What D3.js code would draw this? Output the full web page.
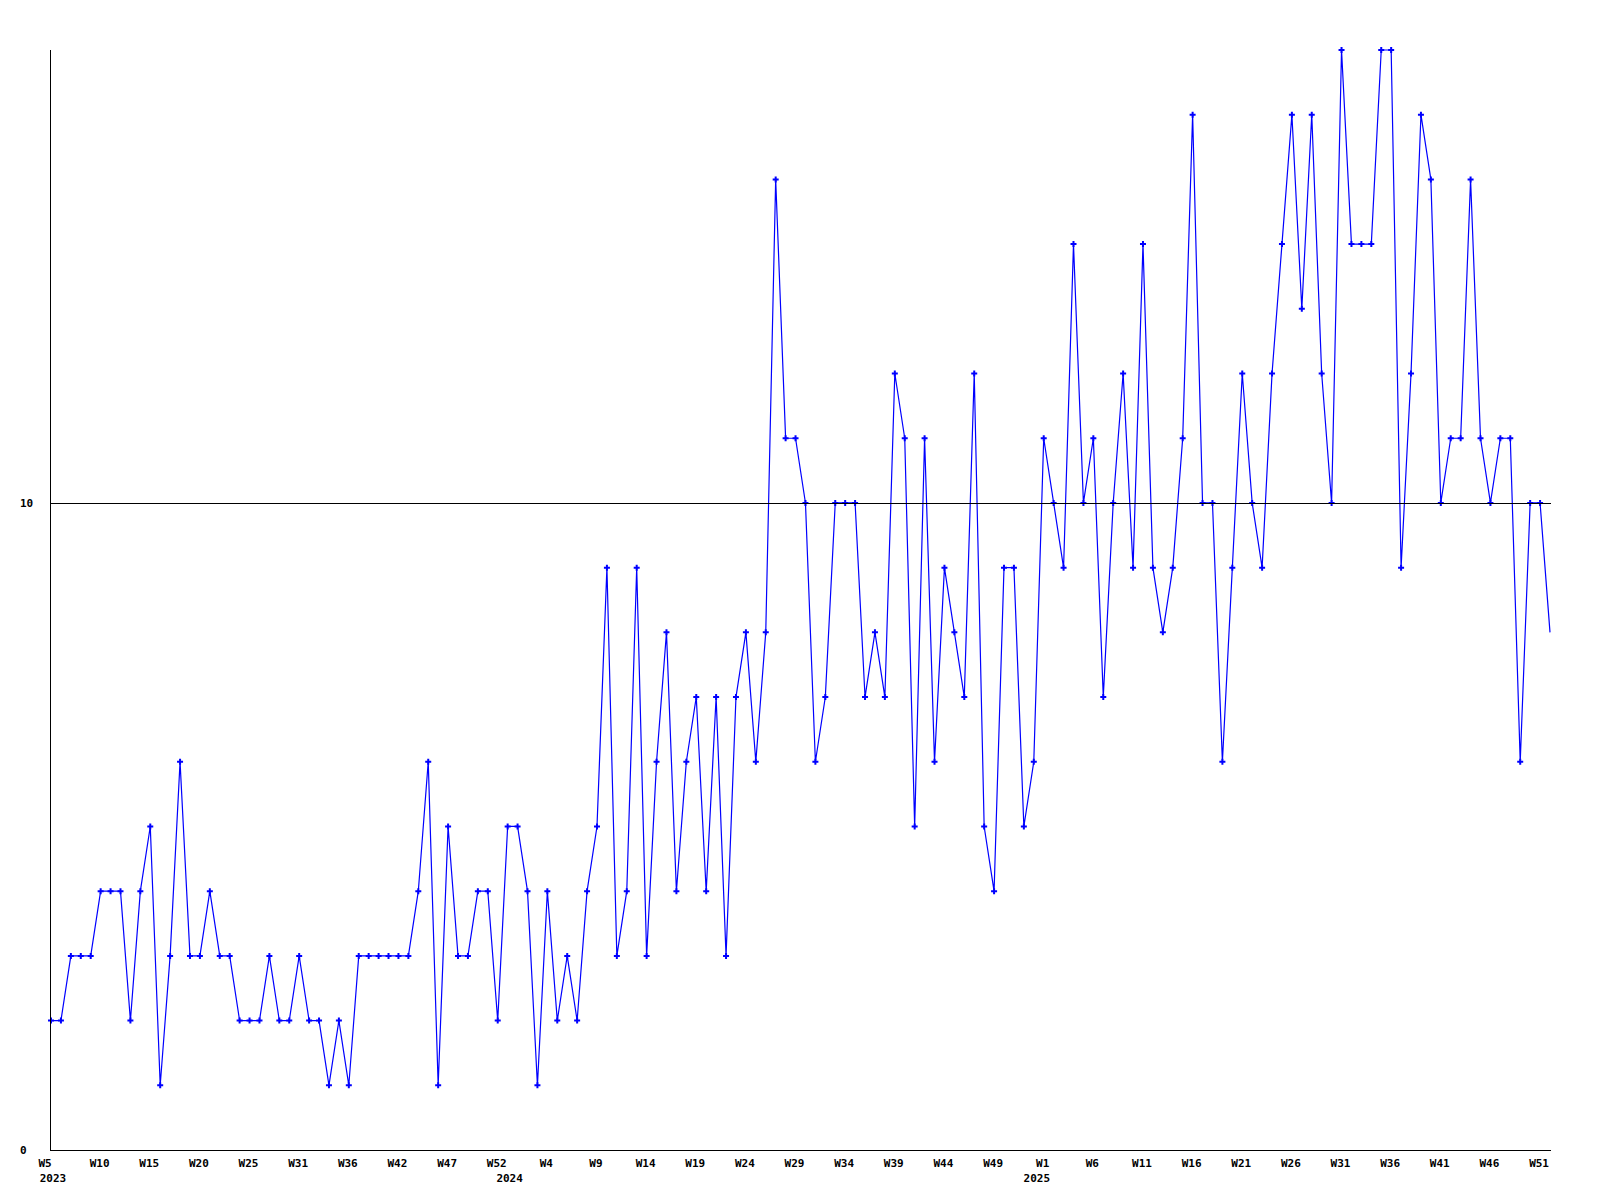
<!DOCTYPE html>
<html>
<head>
<meta charset="utf-8">
<script src="https://cdn.jsdelivr.net/npm/d3@7"></script>
<style>
  html, body { margin: 0; padding: 0; background: #ffffff; }
  svg { display: block; }
  text { font-family: "DejaVu Sans Mono", "Liberation Mono", monospace; font-weight: bold; font-size: 11px; fill: #000; }
</style>
</head>
<body>
<script>
// ---- data ----
const values = [
  2,2,3,3,3,4,4,4,2,4,
  5,1,3,6,3,3,4,3,3,2,
  2,2,3,2,2,3,2,2,1,2,
  1,3,3,3,3,3,3,4,6,1,
  5,3,3,4,4,2,5,5,4,1,
  4,2,3,2,4,5,9,3,4,9,
  3,6,8,4,6,7,4,7,3,7,
  8,6,8,15,11,11,10,6,7,10,
  10,10,7,8,7,12,11,5,11,6,
  9,8,7,12,5,4,9,9,5,6,
  11,10,9,14,10,11,7,10,12,9,
  14,9,8,9,11,16,10,10,6,9,
  12,10,9,12,14,16,13,16,12,10,
  17,14,14,14,17,17,9,12,16,15,
  10,11,11,15,11,10,11,11,6,10,
  10,8
];
const weekLabels = [
  "W5","W10","W15","W20","W25","W31","W36","W42","W47","W52",
  "W4","W9","W14","W19","W24","W29","W34","W39","W44","W49",
  "W1","W6","W11","W16","W21","W26","W31","W36","W41","W46","W51"
];
const weekLabelIndex = [
  -0.5,5,10,15,20,25,30,35,40,45,
  50,55,60,65,70,75,80,85,90,95,
  100,105,110,115,120,125,130,135,140,145,150
];
const yearLabels = ["2023", "2024", "2025"];
const yearLabelIndex = [0.2, 46.2, 99.3];
const yTickValues = [0, 10];
const yMax = 17;

// ---- layout ----
const W = 1600, H = 1200;
const plotLeft = 50, plotRight = 1551, plotTop = 50, plotBottom = 1150;

const svg = d3.select("body").append("svg").attr("width", W).attr("height", H);

const x = d3.scaleLinear().domain([0, values.length - 1]).range([51, 1550]);
const y = d3.scaleLinear().domain([0, yMax]).range([plotBottom, plotTop]);

// data line
const line = d3.line().x((d, i) => x(i)).y(d => y(d));
svg.append("path")
  .datum(values)
  .attr("fill", "none")
  .attr("stroke", "#0000ff")
  .attr("stroke-width", 1.2)
  .attr("d", line);

// markers (no marker on the last, partial point)
const sym = d3.symbol().type(d3.symbolCross).size(20);
svg.append("g").selectAll("path")
  .data(values.slice(0, values.length - 1))
  .join("path")
  .attr("transform", (d, i) => `translate(${x(i)},${y(d)})`)
  .attr("d", sym)
  .attr("fill", "#0000ff");

// grid line at 10 (drawn on top)
svg.append("g").selectAll("line")
  .data(yTickValues.filter(v => v > 0))
  .join("line")
  .attr("x1", plotLeft).attr("x2", plotRight)
  .attr("y1", d => Math.round(y(d)) + 0.5).attr("y2", d => Math.round(y(d)) + 0.5)
  .attr("stroke", "#000").attr("stroke-width", 1);

// axes lines
svg.append("line")
  .attr("x1", plotLeft + 0.5).attr("x2", plotLeft + 0.5)
  .attr("y1", plotTop).attr("y2", plotBottom + 1)
  .attr("stroke", "#000");
svg.append("line")
  .attr("x1", plotLeft).attr("x2", plotRight)
  .attr("y1", plotBottom + 0.5).attr("y2", plotBottom + 0.5)
  .attr("stroke", "#000");

// y labels
svg.append("g").selectAll("text")
  .data(yTickValues)
  .join("text")
  .attr("x", 20)
  .attr("y", d => y(d))
  .attr("dy", "0.35em")
  .attr("text-anchor", "start")
  .text(d => d);

// week labels
svg.append("g").selectAll("text")
  .data(weekLabels)
  .join("text")
  .attr("x", (d, i) => x(weekLabelIndex[i]) - 1)
  .attr("y", 1163)
  .attr("dy", "0.35em")
  .attr("text-anchor", "middle")
  .text(d => d);

// year labels
svg.append("g").selectAll("text")
  .data(yearLabels)
  .join("text")
  .attr("x", (d, i) => x(yearLabelIndex[i]))
  .attr("y", 1178)
  .attr("dy", "0.35em")
  .attr("text-anchor", "middle")
  .text(d => d);
</script>
</body>
</html>
